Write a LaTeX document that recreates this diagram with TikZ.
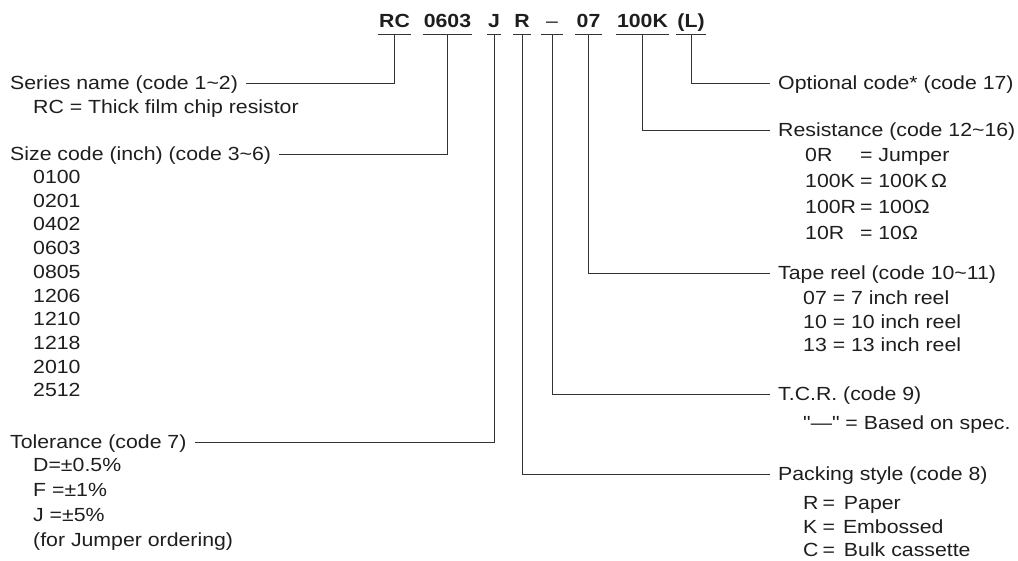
\documentclass[tikz,border=0pt]{standalone}
\usepackage{fontspec}
\setmainfont[FakeStretch=1.12]{Liberation Sans}
\usetikzlibrary{positioning}
\definecolor{leadgrey}{HTML}{333333}
\definecolor{inkblack}{HTML}{1E1E1E}
\tikzset{
  code part/.style  = {font=\fontsize{19}{22}\selectfont\bfseries, text=inkblack,
                       inner xsep=1pt, inner ysep=7pt, text height=14pt, text depth=0pt},
  field head/.style = {font=\fontsize{19}{24}\selectfont, text=inkblack,
                       inner sep=0pt, text height=14pt, text depth=1pt},
  field list/.style = {font=\fontsize{19}{#1}\selectfont, text=inkblack,
                       inner sep=0pt, anchor=base west},
  field list/.default = 24pt,
  lead line/.style  = {leadgrey, line width=0.9pt},
  lead/.style       = {lead line, shorten >=8pt},
}

\begin{document}
\begin{tikzpicture}[x=1pt, y=-1pt]
  \useasboundingbox (0,0) rectangle (1018,560);

  % the part number
  \node[code part] (t-rc)   at (394.5,20) {RC};
  \node[code part] (t-size) at (447.5,20) {0603};
  \node[code part] (t-tol)  at (494,20)   {J};
  \node[code part] (t-pack) at (522,20)   {R};
  \node[code part, minimum width=22pt, font=\fontsize{19}{22}\selectfont] (t-tcr) at (552,20) {–};
  \node[code part] (t-reel) at (588.5,20) {07};
  \node[code part] (t-res)  at (642.5,20) {100K};
  \node[code part] (t-opt)  at (691,20)   {(L)};
  \foreach \p in {rc,size,tol,pack,tcr,reel,res,opt}
    \draw[lead line] (t-\p.south west) -- (t-\p.south east);

  % left column
  \node[field head, anchor=west] (h-series) at (10,83) {Series name (code 1\textasciitilde2)};
  \node[below right=24pt and 23pt of h-series.base west, field list]
    (l-series) {RC = Thick film chip resistor};

  \node[field head, anchor=west] (h-size) at (10,154) {Size code (inch) (code 3\textasciitilde6)};
  \node[below right=23pt and 23pt of h-size.base west, field list=23.7pt] (l-size)
    {\begin{tabular}[t]{@{}l@{}}
      0100\\ 0201\\ 0402\\ 0603\\ 0805\\ 1206\\ 1210\\ 1218\\ 2010\\ 2512
    \end{tabular}};

  \node[field head, anchor=west] (h-tol) at (10,442) {Tolerance (code 7)};
  \node[below right=23pt and 23pt of h-tol.base west, field list=25pt] (l-tol)
    {\begin{tabular}[t]{@{}l@{}}
      D=±0.5\%\\ F =±1\%\\ J =±5\%\\ (for Jumper ordering)
    \end{tabular}};

  % right column
  \node[field head, anchor=west] (h-opt) at (778,83) {Optional code* (code 17)};

  \node[field head, anchor=west] (h-res) at (778,130) {Resistance (code 12\textasciitilde16)};
  \node[below right=25pt and 27pt of h-res.base west, field list=26pt] (l-res)
    {\begin{tabular}[t]{@{}l@{\hspace{4pt}}l@{}}
      0R   & = Jumper\\
      100K & = 100K\,Ω\\
      100R & = 100Ω\\
      10R  & = 10Ω
    \end{tabular}};

  \node[field head, anchor=west] (h-reel) at (778,273) {Tape reel (code 10\textasciitilde11)};
  \node[below right=25pt and 25pt of h-reel.base west, field list=23.5pt] (l-reel)
    {\begin{tabular}[t]{@{}l@{}}
      07 = 7 inch reel\\ 10 = 10 inch reel\\ 13 = 13 inch reel
    \end{tabular}};

  \node[field head, anchor=west] (h-tcr) at (778,394) {T.C.R. (code 9)};
  \node[below right=29pt and 25pt of h-tcr.base west, field list]
    (l-tcr) {\addfontfeature{Ligatures=TeXOff}"—" = Based on spec.};

  \node[field head, anchor=west] (h-pack) at (778,474) {Packing style (code 8)};
  \node[below right=29pt and 25pt of h-pack.base west, field list=23.5pt] (l-pack)
    {\begin{tabular}[t]{@{}l@{\hspace{4pt}}l@{}}
      R & =\hspace{9pt}Paper\\
      K & =\hspace{8pt}Embossed\\
      C & =\hspace{9pt}Bulk cassette
    \end{tabular}};

  % leaders from the code to the fields
  \draw[lead] (t-rc.south)   |- (h-series.east);
  \draw[lead] (t-size.south) |- (h-size.east);
  \draw[lead] (t-tol.south)  |- (h-tol.east);
  \draw[lead] (t-pack.south) |- (h-pack.west);
  \draw[lead] (t-tcr.south)  |- (h-tcr.west);
  \draw[lead] (t-reel.south) |- (h-reel.west);
  \draw[lead] (t-res.south)  |- (h-res.west);
  \draw[lead] (t-opt.south)  |- (h-opt.west);
\end{tikzpicture}
\end{document}
